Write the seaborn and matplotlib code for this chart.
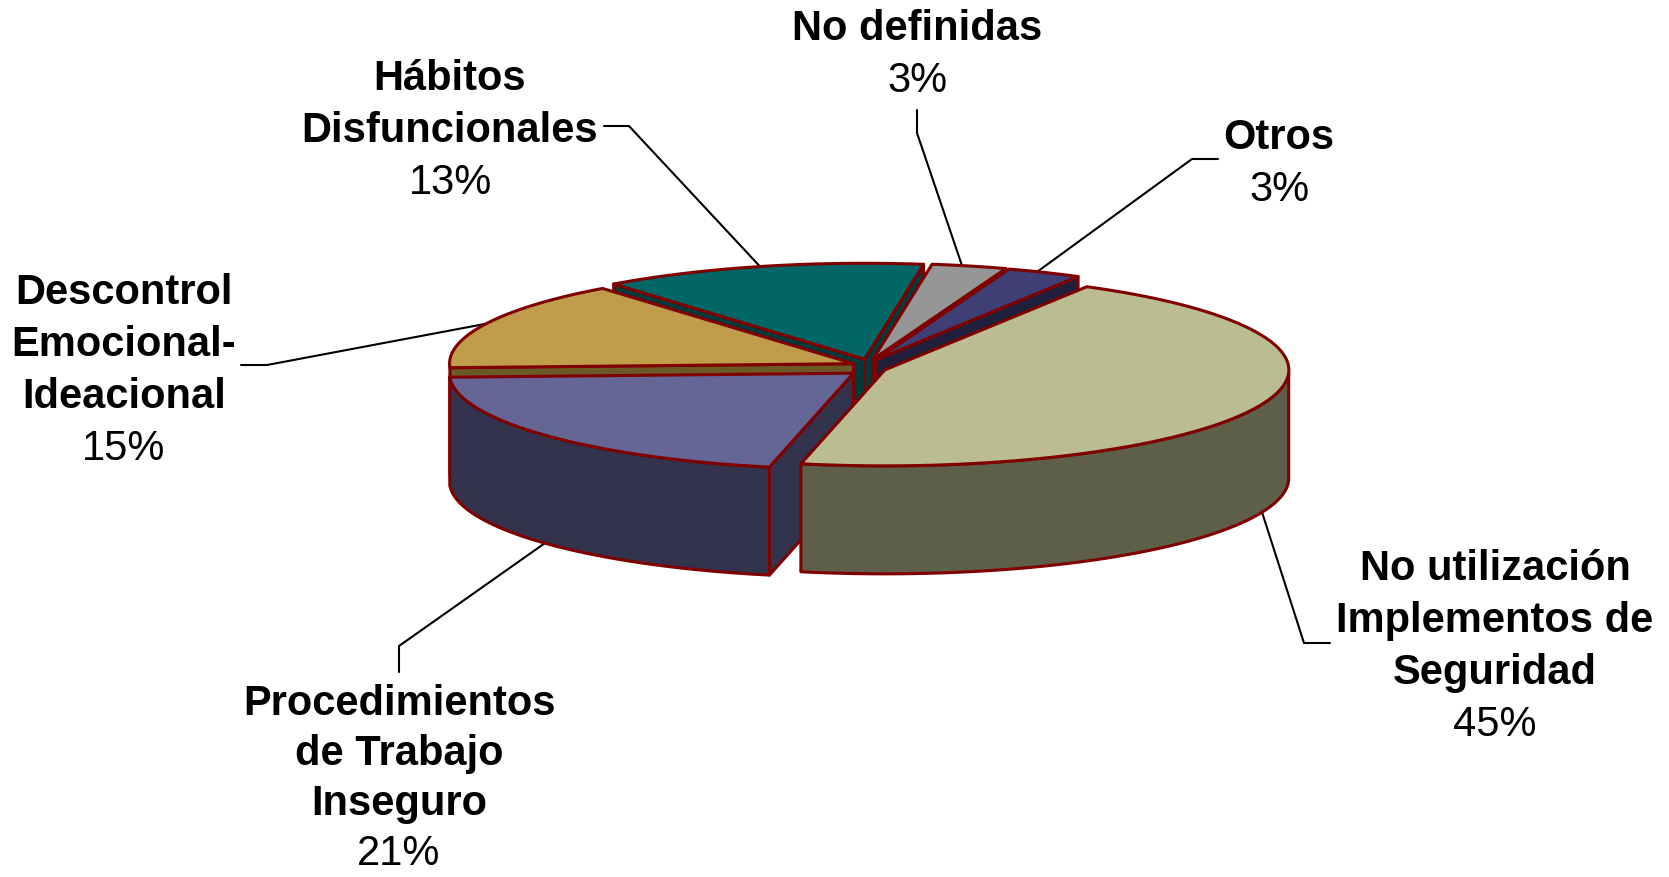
import numpy as np
import matplotlib.pyplot as plt
import seaborn as sns
from matplotlib.patches import Polygon

categories = ["No utilización\nImplementos de\nSeguridad", "Procedimientos\nde Trabajo\nInseguro",
              "Descontrol\nEmocional-\nIdeacional", "Hábitos\nDisfuncionales", "No definidas", "Otros"]
values = [45, 21, 15, 13, 3, 3]
top_colors = ["#BBBC8F", "#656596", "#BF9D4A", "#006666", "#969696", "#3F3F75"]
wall_colors = ["#5E5F48", "#33334D", "#6B5A25", "#003A3A", "#4B4B4B", "#20203C"]

# label centre x, first line y, line step, leader elbow points, where on the wedge the leader lands
label_x = [1495, 399, 124, 450, 917, 1279]
label_y = [569, 704, 293, 79, 29, 138]
line_h = [52, 50, 52, 52, 52, 52]
leaders = [[(1330, 643), (1304, 643)], [(399, 672), (399, 646)], [(241, 365), (267, 365)],
           [(604, 126), (629, 126)], [(917, 110), (917, 133)], [(1218, 159), (1192, 159)]]
leader_frac = [0.5, 0.5, 0.5, 0.5, 0.4, 0.4]
explode = [1, 1.2, 1, 1, 1, 1]

# pie geometry in pixels
CX, CY = 869, 367
RX, RY = 404, 96
HEIGHT = 108
EXPLODE_X, EXPLODE_Y = 17, 8
START = 60
EDGE = "#800000"

sns.set_theme(style="white")
plt.rcParams["font.family"] = ["Liberation Sans", "DejaVu Sans"]

fig = plt.figure(figsize=(16.69, 8.77), dpi=100)
ax = fig.add_axes([0, 0, 1, 1])
ax.set_xlim(0, 1669)
ax.set_ylim(877, 0)
ax.set_axis_off()

spans = np.array(values) / sum(values) * 360
t_start = START - np.concatenate([[0], np.cumsum(spans)[:-1]])
t_end = t_start - spans
t_mid = (t_start + t_end) / 2


def apex(i):
    a = np.radians(t_mid[i])
    return CX + explode[i] * EXPLODE_X * np.cos(a), CY - explode[i] * EXPLODE_Y * np.sin(a)


def rim(i, t):
    x0, y0 = apex(i)
    a = np.radians(t)
    return x0 + RX * np.cos(a), y0 - RY * np.sin(a)


z = 5


def add_poly(pts, color):
    global z
    z += 1
    ax.add_patch(Polygon(pts, closed=True, facecolor=color, edgecolor=EDGE,
                         linewidth=2.2, joinstyle="round", zorder=z))


def draw_wedge(i):
    x0, y0 = apex(i)
    # radial walls that face the viewer
    for t, normal in [(t_start[i], t_start[i] + 90), (t_end[i], t_end[i] - 90)]:
        if np.sin(np.radians(normal)) < 0:
            xr, yr = rim(i, t)
            add_poly([(x0, y0), (xr, yr), (xr, yr + HEIGHT), (x0, y0 + HEIGHT)], wall_colors[i])
    # outer wall, front half only
    ts = np.linspace(t_start[i], t_end[i], 80)
    ts = ts[np.sin(np.radians(ts)) <= 0]
    if len(ts) > 5:
        upper = [rim(i, t) for t in ts]
        lower = [(x, y + HEIGHT) for x, y in upper[::-1]]
        add_poly(upper + lower, wall_colors[i])
    # top face
    ts = np.linspace(t_start[i], t_end[i], 80)
    add_poly([(x0, y0)] + [rim(i, t) for t in ts], top_colors[i])


# back wedges first, the big one last
for i in [3, 2, 1, 4, 5, 0]:
    draw_wedge(i)

for i, cat in enumerate(categories):
    t_lead = t_start[i] - leader_frac[i] * spans[i]
    xa, ya = rim(i, t_lead)
    if np.sin(np.radians(t_lead)) < 0:
        ya += HEIGHT
    pts = leaders[i] + [(xa, ya)]
    ax.plot([p[0] for p in pts], [p[1] for p in pts], color="black", linewidth=1.5, zorder=2)

    lines = cat.split("\n")
    for k, line in enumerate(lines):
        ax.text(label_x[i], label_y[i] + k * line_h[i], line, ha="center", va="center",
                fontsize=30, fontweight="bold", color="black", zorder=50)
    ax.text(label_x[i], label_y[i] + len(lines) * line_h[i], f"{values[i]}%", ha="center", va="center",
            fontsize=30, color="black", zorder=50)

fig.savefig("out.png", dpi=100)
